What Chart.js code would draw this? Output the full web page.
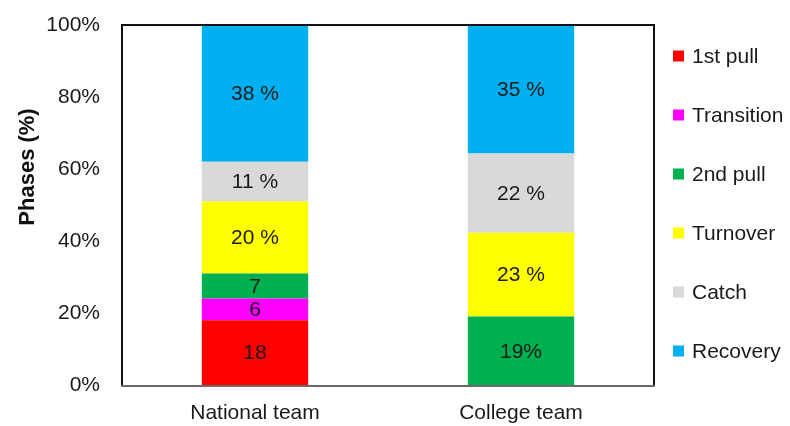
<!DOCTYPE html>
<html>
<head>
<meta charset="utf-8">
<script src="https://cdn.jsdelivr.net/npm/chart.js"></script>
<style>
    html, body { margin: 0; padding: 0; background: #fff; }
    #wrap { width: 790px; height: 426px; }
</style>
</head>
<body>
<div id="wrap"><canvas id="phaseChart"></canvas></div>
<script>
// data
const teams = ['National team', 'College team'];
const phases = ['1st pull', 'Transition', '2nd pull', 'Turnover', 'Catch', 'Recovery'];
const phaseColors = ['#ff0000', '#ff00ff', '#00b050', '#ffff00', '#d9d9d9', '#00b0f0'];
const nationalValues = [18, 6, 7, 20, 11, 38];
const collegeValues = [null, null, 19, 23.3, 22, 35.7];
const nationalLabels = ['18', '6', '7', '20 %', '11 %', '38 %'];
const collegeLabels = [null, null, '19%', '23 %', '22 %', '35 %'];
const yTicks = [0, 20, 40, 60, 80, 100];

const FONT = 'Arial, "Liberation Sans", sans-serif';

// numbers inside the bar segments
const segmentLabels = {
    id: 'segmentLabels',
    afterDatasetsDraw(chart) {
        const ctx = chart.ctx;
        ctx.save();
        ctx.font = '21px ' + FONT;
        ctx.fillStyle = '#1a1a1a';
        ctx.textAlign = 'center';
        ctx.textBaseline = 'middle';
        chart.data.datasets.forEach((ds, i) => {
            chart.getDatasetMeta(i).data.forEach((bar, j) => {
                const txt = ds.segLabels[j];
                if (!txt) return;
                const mid = (bar.y + bar.base) / 2;
                ctx.fillText(txt, bar.x, mid + 1);
            });
        });
        ctx.restore();
    }
};

// box around the plot, y title and the legend on the right
const frameAndLegend = {
    id: 'frameAndLegend',
    afterDraw(chart) {
        const ctx = chart.ctx;
        const a = chart.chartArea;
        ctx.save();
        ctx.strokeStyle = '#111';
        ctx.lineWidth = 2;
        ctx.beginPath();
        ctx.moveTo(a.left, a.bottom);
        ctx.lineTo(a.left, a.top);
        ctx.lineTo(a.right, a.top);
        ctx.lineTo(a.right, a.bottom);
        ctx.stroke();
        ctx.strokeStyle = '#6a6a6a';
        ctx.beginPath();
        ctx.moveTo(a.left - 1, a.bottom + 1);
        ctx.lineTo(a.right + 1, a.bottom + 1);
        ctx.stroke();

        // y axis title
        ctx.translate(28, 167);
        ctx.rotate(-Math.PI / 2);
        ctx.font = 'bold 22px ' + FONT;
        ctx.fillStyle = '#111';
        ctx.textAlign = 'center';
        ctx.textBaseline = 'middle';
        ctx.fillText('Phases (%)', 0, 0);
        ctx.setTransform(1, 0, 0, 1, 0, 0);

        // legend
        ctx.font = '21px ' + FONT;
        ctx.textAlign = 'left';
        ctx.textBaseline = 'middle';
        chart.data.datasets.forEach((ds, i) => {
            const y = 56 + i * 59;
            ctx.fillStyle = ds.backgroundColor;
            ctx.fillRect(673, y - 5.5, 11, 11);
            ctx.fillStyle = '#1a1a1a';
            ctx.fillText(ds.label, 692, y + 1);
        });
        ctx.restore();
    }
};

const datasets = phases.map((name, i) => ({
    label: name,
    data: [nationalValues[i], collegeValues[i]],
    segLabels: [nationalLabels[i], collegeLabels[i]],
    backgroundColor: phaseColors[i],
    borderWidth: 0,
    barPercentage: 0.4,
    categoryPercentage: 1.0
}));

const ctx = document.getElementById('phaseChart').getContext('2d');
new Chart(ctx, {
    type: 'bar',
    data: { labels: teams, datasets: datasets },
    options: {
        responsive: true,
        maintainAspectRatio: false,
        animation: false,
        layout: { padding: { top: 25, right: 136, left: 0, bottom: 0 } },
        plugins: {
            legend: { display: false },
            tooltip: { enabled: false }
        },
        scales: {
            x: {
                stacked: true,
                grid: { display: false, drawTicks: false },
                border: { display: false },
                ticks: { color: '#1a1a1a', font: { family: FONT, size: 21 }, padding: 16 },
                afterFit(scale) { scale.height = 41; }
            },
            y: {
                stacked: true,
                min: 0,
                max: 100,
                grid: { display: false, drawTicks: false },
                border: { display: false },
                afterBuildTicks(scale) { scale.ticks = yTicks.map(v => ({ value: v })); },
                ticks: {
                    color: '#1a1a1a',
                    font: { family: FONT, size: 21 },
                    padding: 22,
                    callback: v => v + '%'
                },
                afterFit(scale) {
                    scale.width = 122;
                    scale.paddingTop = 0;
                    scale.paddingBottom = 0;
                }
            }
        }
    },
    plugins: [segmentLabels, frameAndLegend]
});
</script>
</body>
</html>
